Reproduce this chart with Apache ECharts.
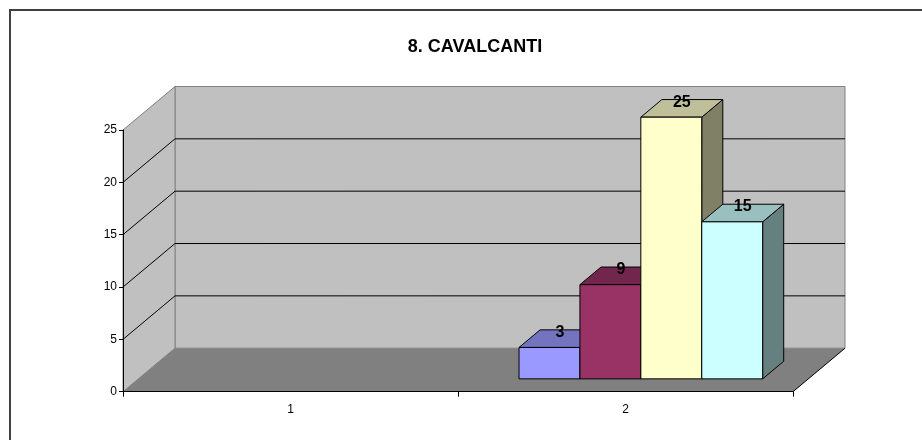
<!DOCTYPE html>
<html>
<head>
<meta charset="utf-8">
<script src="https://cdn.jsdelivr.net/npm/echarts@6/dist/echarts.min.js"></script>
<style>html,body{margin:0;padding:0;background:#fff;}#c{width:922px;height:440px;}</style>
</head>
<body>
<div id="c"></div>
<script>
// ---- data ----
const titleText = '8. CAVALCANTI';
const categories = ['1', '2'];
const valuesA = [null, 3];
const valuesB = [null, 9];
const valuesC = [null, 25];
const valuesD = [null, 15];
const yMin = 0, yMax = 25, yInterval = 5;
const yTickValues = [0, 5, 10, 15, 20, 25];
const barColors = ['#9999FF', '#993366', '#FFFFCC', '#CCFFFF'];

// ---- 3D look ----
const DX = 52, DY = -43.5;          // full depth offset of the walls
const BAR_D0 = 0.295, BAR_D1 = 0.70; // bar depth band
const GAP = 1.5;                     // gap width (150%)
const FONT = 'Arial, "Liberation Sans", sans-serif';

function shade(hex, f) {
  const n = parseInt(hex.slice(1), 16);
  const r = Math.round(((n >> 16) & 255) * f), g = Math.round(((n >> 8) & 255) * f), b = Math.round((n & 255) * f);
  return 'rgb(' + r + ',' + g + ',' + b + ')';
}

const chart = echarts.init(document.getElementById('c'), null, { renderer: 'canvas' });

function wallRender(params, api) {
  const cs = params.coordSys;
  const x0 = cs.x, x1 = cs.x + cs.width, yb = cs.y + cs.height, yt = cs.y;
  const children = [];
  children.push({ type: 'polygon', shape: { points: [[x0 + DX, yt + DY], [x1 + DX, yt + DY], [x1 + DX, yb + DY], [x0 + DX, yb + DY]] },
    style: { fill: '#C0C0C0', stroke: '#808080', lineWidth: 1 } });
  children.push({ type: 'polygon', shape: { points: [[x0, yb], [x0, yt], [x0 + DX, yt + DY], [x0 + DX, yb + DY]] },
    style: { fill: '#C0C0C0', stroke: '#808080', lineWidth: 1 } });
  yTickValues.forEach(function (v) {
    if (v === yMin || v === yMax) return;
    const y = api.coord([0, v])[1];
    children.push({ type: 'polyline', shape: { points: [[x0, y], [x0 + DX, y + DY], [x1 + DX, y + DY]] },
      style: { stroke: '#000', lineWidth: 1, fill: null } });
  });
  children.push({ type: 'polygon', shape: { points: [[x0, yb], [x1, yb], [x1 + DX, yb + DY], [x0 + DX, yb + DY]] },
    style: { fill: '#808080' } });
  children.push({ type: 'line', shape: { x1: x1, y1: yb, x2: x1 + DX, y2: yb + DY }, style: { stroke: '#000', lineWidth: 1 } });
  return { type: 'group', children: children };
}

function makeBarRender(sIdx, nSeries) {
  return function (params, api) {
    const cat = api.value(0), val = api.value(1);
    if (val == null || isNaN(val)) return;
    const band = api.size([1, 0])[0];
    const bw = band / (nSeries + GAP);
    const base = api.coord([cat, 0]);
    const topP = api.coord([cat, val]);
    const xl = base[0] - (nSeries / 2) * bw + sIdx * bw, xr = xl + bw;
    const ox = DX * BAR_D0, oy = DY * BAR_D0;
    const ddx = DX * (BAR_D1 - BAR_D0), ddy = DY * (BAR_D1 - BAR_D0);
    const yb = base[1] + oy, yt = topP[1] + oy;
    const L = xl + ox, R = xr + ox;
    const c = barColors[sIdx];
    const st = { stroke: '#000', lineWidth: 1, lineJoin: 'round' };
    return { type: 'group', children: [
      { type: 'polygon', shape: { points: [[R, yt], [R, yb], [R + ddx, yb + ddy], [R + ddx, yt + ddy]] }, style: Object.assign({ fill: shade(c, 0.5) }, st) },
      { type: 'polygon', shape: { points: [[L, yt], [R, yt], [R + ddx, yt + ddy], [L + ddx, yt + ddy]] }, style: Object.assign({ fill: shade(c, 0.75) }, st) },
      { type: 'rect', shape: { x: L, y: yt, width: bw, height: yb - yt }, style: Object.assign({ fill: c }, st) },
      { type: 'text', x: (L + R) / 2 + ddx / 2, y: yt + ddy / 2 + 2, style: { text: String(val), fill: '#000', font: 'bold 16px ' + FONT, align: 'center', verticalAlign: 'bottom' } }
    ] };
  };
}

const allValues = [valuesA, valuesB, valuesC, valuesD];
const barSeries = allValues.map(function (vals, i) {
  return {
    type: 'custom', z: 3, clip: false,
    renderItem: makeBarRender(i, allValues.length),
    encode: { x: 0, y: 1 },
    data: vals.map(function (v, k) { return [k, v]; })
  };
});

chart.setOption({
  animation: false,
  backgroundColor: '#fff',
  title: { text: titleText, left: 470, textAlign: 'center', top: 33,
    textStyle: { fontFamily: FONT, fontSize: 18, fontWeight: 'bold', color: '#000' } },
  grid: { left: 123, right: 129, top: 130, bottom: 48.3, containLabel: false },
  xAxis: { type: 'category', data: categories, z: 10,
    axisLine: { lineStyle: { color: '#000', width: 1 } },
    axisTick: { show: true, length: 5, lineStyle: { color: '#000' } },
    axisLabel: { color: '#000', fontSize: 12, fontFamily: FONT, margin: 12 },
    splitLine: { show: false } },
  yAxis: { type: 'value', min: yMin, max: yMax, interval: yInterval, z: 10,
    axisLine: { show: true, lineStyle: { color: '#000', width: 1 } },
    axisTick: { show: true, length: 4, lineStyle: { color: '#000' } },
    axisLabel: { color: '#000', fontSize: 12, fontFamily: FONT, margin: 6 },
    splitLine: { show: false } },
  graphic: [
    { type: 'line', shape: { x1: 9, y1: 10, x2: 922, y2: 10 }, style: { stroke: '#000', lineWidth: 1.5 }, z: 100 },
    { type: 'line', shape: { x1: 10, y1: 10, x2: 10, y2: 440 }, style: { stroke: '#404040', lineWidth: 2 }, z: 100 }
  ],
  series: [{ type: 'custom', z: 1, clip: false, renderItem: wallRender, encode: { x: 0, y: 1 }, data: [[0, 0]] }].concat(barSeries)
});
</script>
</body>
</html>
